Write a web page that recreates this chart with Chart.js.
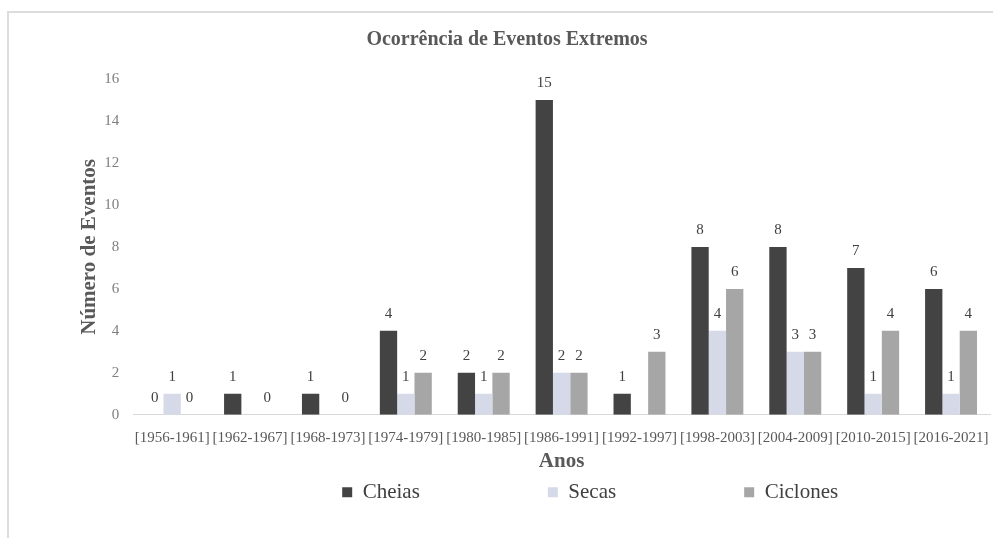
<!DOCTYPE html>
<html>
<head>
<meta charset="utf-8">
<title>Ocorrência de Eventos Extremos</title>
<script src="https://cdn.jsdelivr.net/npm/chart.js@4.4.1/dist/chart.umd.min.js"></script>
<style>
  html, body { margin: 0; padding: 0; background: #ffffff; overflow: hidden; }
  #frame {
    position: absolute; left: 7px; top: 11px; width: 1000px; height: 540px;
    border-left: 2px solid #dcdcdc; border-top: 2px solid #dcdcdc;
  }
  #chart { position: absolute; left: 9px; top: 13px; }
</style>
</head>
<body>
<div id="frame"></div>
<canvas id="chart" width="996" height="525"></canvas>
<script>
// Periods (six-year windows)
const categories = [
  '[1956-1961]', '[1962-1967]', '[1968-1973]', '[1974-1979]', '[1980-1985]', '[1986-1991]',
  '[1992-1997]', '[1998-2003]', '[2004-2009]', '[2010-2015]', '[2016-2021]'
];

// Number of events per period (null = no value recorded)
const cheias   = [0, 1, 1, 4, 2, 15, 1, 8, 8, 7, 6];
const secas    = [1, null, null, 1, 1, 2, null, 4, 3, 1, 1];
const ciclones = [0, 0, 0, 2, 2, 2, 3, 6, 3, 4, 4];

// Y axis range
const yMin = 0;
const yMax = 16;
const yStep = 2;

const SERIF = "'Liberation Serif', 'Times New Roman', serif";

// Writes each bar's value above it
const valueLabels = {
  id: 'valueLabels',
  afterDatasetsDraw(chart) {
    const ctx = chart.ctx;
    ctx.save();
    ctx.font = '15px ' + SERIF;
    ctx.fillStyle = '#404040';
    ctx.textAlign = 'center';
    ctx.textBaseline = 'middle';
    chart.data.datasets.forEach((ds, i) => {
      const meta = chart.getDatasetMeta(i);
      meta.data.forEach((bar, j) => {
        const v = ds.data[j];
        if (v === null || v === undefined) return;
        ctx.fillText(String(v), bar.x, bar.y - 17);
      });
    });
    ctx.restore();
  }
};

// Centres the title on the whole canvas and places the legend row
// under the axis title with wide gaps between entries
const blockPlacement = {
  id: 'blockPlacement',
  afterLayout(chart) {
    const tb = chart.titleBlock;
    if (tb) {
      tb.left = 0;
      tb.right = chart.width;
      tb.width = chart.width;
    }
    const lg = chart.legend;
    if (lg) {
      const pad = lg.options.labels.padding;
      lg.left = chart.chartArea.left + 209 - pad;
      lg.top = chart.chartArea.bottom + 67 - pad;
      lg.bottom = lg.top + pad + 32;
    }
  }
};

new Chart(document.getElementById('chart'), {
  type: 'bar',
  data: {
    labels: categories,
    datasets: [
      { label: 'Cheias',   data: cheias,   backgroundColor: '#434343' },
      { label: 'Secas',    data: secas,    backgroundColor: '#d6d9e7' },
      { label: 'Ciclones', data: ciclones, backgroundColor: '#a6a6a6' }
    ]
  },
  options: {
    responsive: false,
    devicePixelRatio: 1,
    animation: false,
    layout: { padding: { left: 60, right: 15, top: 0, bottom: 24 } },
    datasets: {
      bar: { barPercentage: 1.0, categoryPercentage: 0.667, borderWidth: 0 }
    },
    plugins: {
      tooltip: { enabled: false },
      title: {
        display: true,
        text: 'Ocorrência de Eventos Extremos',
        color: '#595959',
        font: { family: SERIF, size: 20, weight: 'bold' },
        padding: { top: 15, bottom: 27 }
      },
      legend: {
        position: 'bottom',
        align: 'start',
        maxHeight: 40,
        labels: {
          boxWidth: 10,
          boxHeight: 10,
          padding: 128,
          color: '#404040',
          font: { family: SERIF, size: 21 }
        }
      }
    },
    scales: {
      x: {
        grid: { display: false, drawTicks: true, tickLength: 14 },
        border: { display: true, color: '#d9d9d9', width: 1 },
        ticks: {
          autoSkip: false, maxRotation: 0, minRotation: 0,
          padding: 0, color: '#595959',
          font: { family: SERIF, size: 15 }
        },
        title: {
          display: true, text: 'Anos', color: '#595959',
          font: { family: SERIF, size: 21, weight: 'bold' },
          padding: { top: 2, bottom: 0 }
        }
      },
      y: {
        min: yMin, max: yMax,
        grid: { display: false, drawTicks: false },
        border: { display: false },
        ticks: {
          stepSize: yStep, padding: 14, color: '#7f7f7f',
          font: { family: SERIF, size: 15 }
        },
        title: {
          display: true, text: 'Número de Eventos', color: '#595959',
          font: { family: SERIF, size: 21, weight: 'bold' },
          padding: { top: 8, bottom: -12 }
        }
      }
    }
  },
  plugins: [valueLabels, blockPlacement]
});
</script>
</body>
</html>
